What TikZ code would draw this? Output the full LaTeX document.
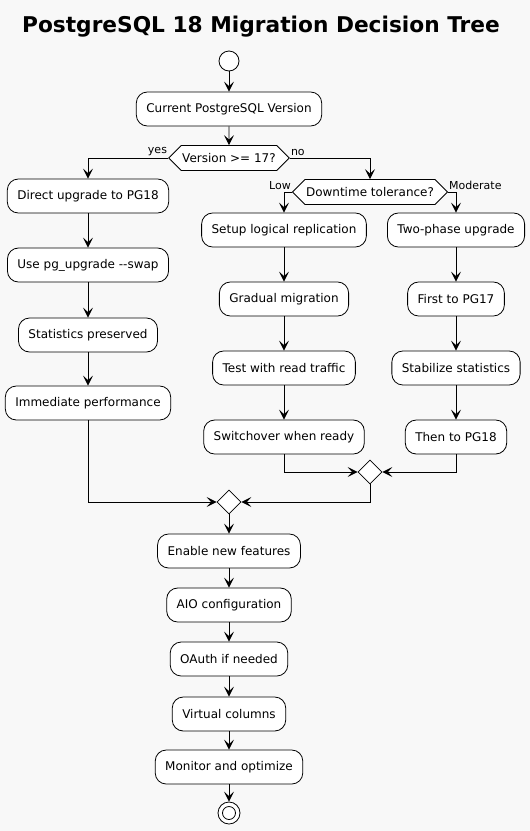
\documentclass[tikz,border=0pt]{standalone}
\usepackage{fontspec}
\setmainfont{DejaVu Sans}
\usetikzlibrary{positioning,arrows.meta,shapes.geometric,shapes.symbols}
\definecolor{canvas}{HTML}{F8F8F8}

\tikzset{
  act/.style={draw, fill=white, rounded corners=11pt, minimum height=34pt,
    inner xsep=10pt, line width=0.8pt, font=\fontsize{12}{14}\selectfont},
  ask/.style={draw, fill=white, signal, signal to=east and west, minimum height=25pt,
    inner xsep=1pt, line width=0.8pt, font=\fontsize{12}{14}\selectfont},
  mergebox/.style={draw, fill=white, diamond, minimum width=24pt, minimum height=24pt,
    inner sep=0pt, line width=0.8pt},
  flow/.style={-{Stealth[length=10pt,width=10pt,inset=4.5pt]}, line width=0.9pt},
  branch/.style={font=\fontsize{11}{13}\selectfont, inner sep=1pt},
}

\begin{document}
\begin{tikzpicture}[x=1pt,y=-1pt]
  \fill[canvas] (0,0) rectangle (530,831);
  \useasboundingbox (0,0) rectangle (530,831);
  \node[font=\fontsize{21.7}{26}\selectfont\bfseries] (title) at (261,27) {PostgreSQL 18 Migration Decision Tree};

  % start and first decision
  \node[circle, draw, fill=white, minimum size=20pt, inner sep=0pt, line width=0.8pt] (start) at (229,61) {};
  \node[act] (cur) at (229,109) {Current PostgreSQL Version};
  \node[ask] (ver) at (229,158) {Version >= 17?};
  \node[ask] (down) at (370,192) {Downtime tolerance?};

  % left column: direct path
  \node[act] (direct)  at (88,196) {Direct upgrade to PG18};
  \node[act] (swap)    at (88,265) {Use pg\_upgrade -{}-swap};
  \node[act] (kept)    at (88,335) {Statistics preserved};
  \node[act] (instant) at (88,403) {Immediate performance};

  % middle column: low downtime
  \node[act] (logical)  at (284,230) {Setup logical replication};
  \node[act] (gradual)  at (284,299) {Gradual migration};
  \node[act] (readtest) at (284,368) {Test with read traffic};
  \node[act] (switch)   at (284,437) {Switchover when ready};

  % right column: moderate downtime
  \node[act] (twophase) at (456,230) {Two-phase upgrade};
  \node[act] (pgsvt)    at (456,299) {First to PG17};
  \node[act] (stabil)   at (456,368) {Stabilize statistics};
  \node[act] (thenpg)   at (456,437) {Then to PG18};

  % merges
  \node[mergebox] (joinA) at (370,472) {};
  \node[mergebox] (joinB) at (229,502) {};

  % final steps
  \node[act] (enable)  at (229,551) {Enable new features};
  \node[act] (aio)     at (229,605) {AIO configuration};
  \node[act] (oauth)   at (229,659) {OAuth if needed};
  \node[act] (virt)    at (229,714) {Virtual columns};
  \node[act] (monitor) at (229,767) {Monitor and optimize};
  \node[circle, draw, fill=white, minimum size=22pt, inner sep=0pt, line width=0.8pt] (stop) at (229,813) {};
  \node[circle, draw, minimum size=13pt, inner sep=0pt, line width=0.8pt] (stopin) at (stop) {};

  % connectors
  \draw[flow] (start) -- (cur);
  \draw[flow] (cur) -- (ver);
  \draw[flow] (ver.west) -| (direct.north);
  \draw[flow] (ver.east) -| (down.north);
  \draw[flow] (down.west) -| (logical.north);
  \draw[flow] (down.east) -| (twophase.north);
  \foreach \a/\b in {direct/swap, swap/kept, kept/instant,
      logical/gradual, gradual/readtest, readtest/switch,
      twophase/pgsvt, pgsvt/stabil, stabil/thenpg,
      joinB/enable, enable/aio, aio/oauth, oauth/virt, virt/monitor, monitor/stop}
    \draw[flow] (\a) -- (\b);
  \draw[flow] (switch.south) |- (joinA.west);
  \draw[flow] (thenpg.south) |- (joinA.east);
  \draw[flow] (instant.south) |- (joinB.west);
  \draw[flow] (joinA.south) |- (joinB.east);

  % branch labels
  \node[branch, anchor=south east] (lyes) at ([yshift=1pt]ver.west) {yes};
  \node[branch, anchor=south west] (lno) at ([yshift=1pt]ver.east) {no};
  \node[branch, anchor=south east] (llow) at ([yshift=1pt]down.west) {Low};
  \node[branch, anchor=south west] (lmod) at ([yshift=1pt]down.east) {Moderate};
\end{tikzpicture}
\end{document}
